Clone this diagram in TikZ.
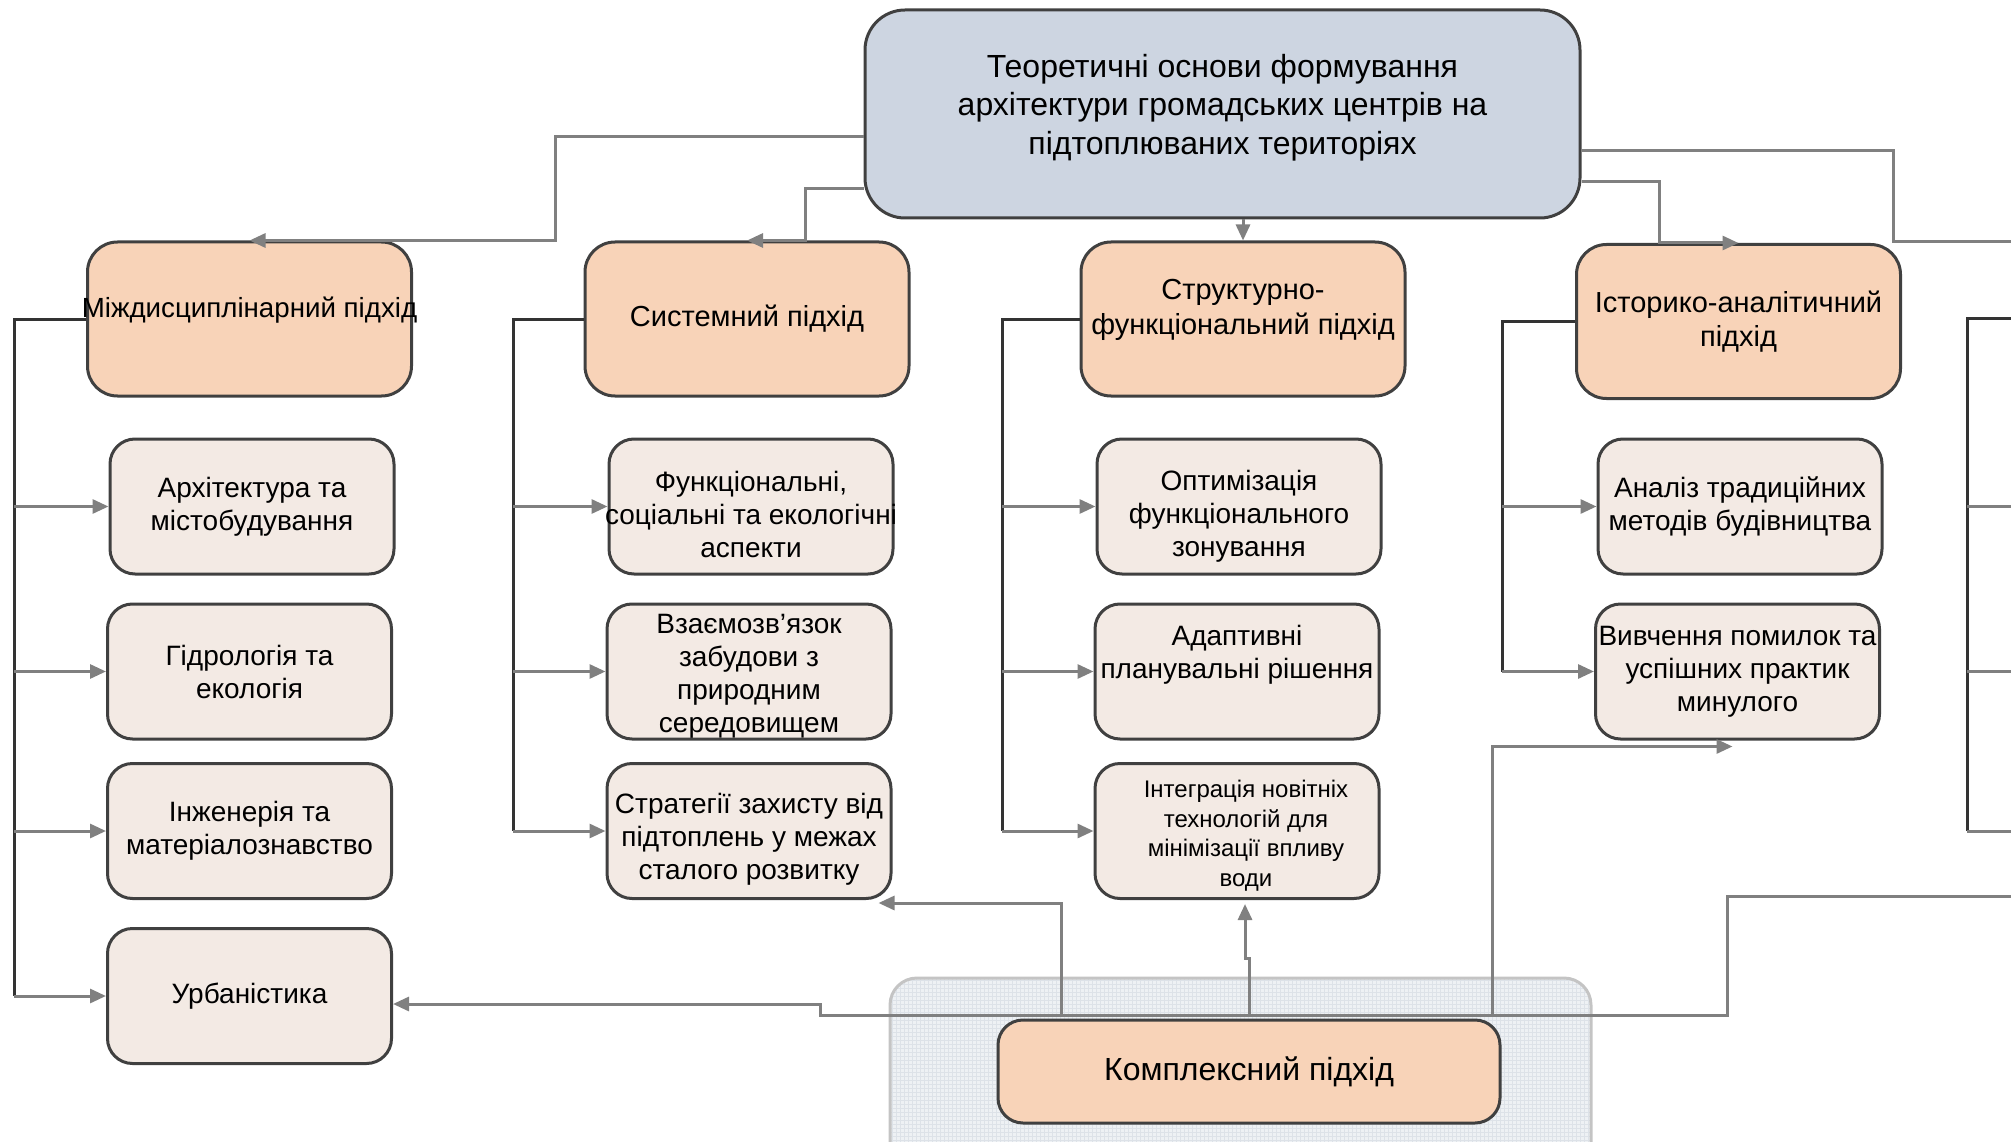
\documentclass[tikz,border=0pt]{standalone}
\usepackage{fontspec}
\setmainfont{Liberation Sans}
\usetikzlibrary{arrows.meta}

\definecolor{boxline}{HTML}{404040}
\definecolor{themefill}{HTML}{CDD5E1}
\definecolor{peach}{HTML}{F8D3B8}
\definecolor{paper}{HTML}{F3EAE4}
\definecolor{linkgray}{HTML}{808080}
\definecolor{bracketdark}{HTML}{333333}
\definecolor{bgfill}{HTML}{EEF1F4}
\definecolor{bggrid}{HTML}{DDE2E8}
\definecolor{bgline}{HTML}{C4C4C4}

% struts that move a text block down (first line) or up (last line)
\newcommand{\txtdown}[1]{\rule{0pt}{#1}}
\newcommand{\txtup}[1]{\rule[-#1]{0pt}{#1}}
% a line that may run over the box edge
\newcommand{\overrun}[1]{\makebox[0pt]{#1}}
% a line pushed a little to the right
\newcommand{\pushr}{\hspace*{18pt}}

\tikzset{
  themebox/.style={draw=boxline, line width=3pt, fill=themefill, rounded corners=40pt, inner sep=0pt,
    minimum width=715pt, minimum height=208pt, align=center, font=\fontsize{32}{38.5}\selectfont},
  approach/.style={draw=boxline, line width=3pt, fill=peach, rounded corners=30pt, inner sep=0pt,
    minimum width=324pt, minimum height=154pt, align=center, font=\fontsize{29}{34.5}\selectfont},
  aspect/.style={draw=boxline, line width=3pt, fill=paper, rounded corners=25pt, inner sep=0pt,
    minimum width=284pt, minimum height=135pt, align=center, font=\fontsize{28}{33}\selectfont},
  conn/.style={draw=linkgray, line width=3pt, -{Triangle[length=16pt,width=14pt]}},
  link/.style={draw=linkgray, line width=3pt},
  bracket/.style={draw=bracketdark, line width=3pt},
}

\begin{document}
\begin{tikzpicture}[x=1pt,y=1pt,yscale=-1]
\useasboundingbox (0,0) rectangle (2011,1142);

%Background of the complex approach
\begin{scope}
\clip[rounded corners=27pt] (890,978) rectangle (1591,1170);
\fill[bgfill] (890,978) rectangle (1591,1170);
\draw[bggrid, line width=0.6pt] (890,978) grid[step=4] (1591,1170);
\end{scope}
\draw[bgline, line width=3pt, rounded corners=27pt] (890,1170) -- (890,978) -- (1591,978) -- (1591,1170);

%Main theme
\node[themebox] (theory) at (1222.5,114) {Теоретичні основи формування\\архітектури громадських центрів на\\підтоплюваних територіях\txtup{20pt}};

%Approaches
\node[approach, font=\fontsize{27.7}{32}\selectfont] (inter) at (249.5,319) {\overrun{Міждисциплінарний підхід}\txtup{24pt}};
\node[approach] (syst) at (747,319) {Системний підхід};
\node[approach] (struct) at (1243,319) {Структурно-\\функціональний підхід\txtup{24pt}};
\node[approach] (hist) at (1738.5,321.5) {Історико-аналітичний\\підхід};

%Aspects
\node[aspect] (inter1) at (252,506.5) {Архітектура та\\містобудування};
\node[aspect] (inter2) at (249.5,671.5) {Гідрологія та\\екологія};
\node[aspect] (inter3) at (249.5,831) {Інженерія та\\матеріалознавство};
\node[aspect] (inter4) at (249.5,996) {Урбаністика};
\node[aspect] (syst1) at (751,506.5) {\txtdown{37pt}Функціональні,\\\overrun{соціальні та екологічні}\\аспекти};
\node[aspect] (syst2) at (749,671.5) {\txtdown{29pt}Взаємозв’язок\\забудови з\\природним\\середовищем};
\node[aspect] (syst3) at (749,831) {\txtdown{37pt}Стратегії захисту від\\підтоплень у межах\\сталого розвитку};
\node[aspect] (struct1) at (1239,506.5) {\txtdown{40pt}Оптимізація\\функціонального\\зонування};
\node[aspect] (struct2) at (1237,671.5) {Адаптивні\\планувальні рішення\txtup{40pt}};
\node[aspect, font=\fontsize{24}{29.5}\selectfont] (struct3) at (1237,831) {\pushr\txtdown{27pt}Інтеграція новітніх\\\pushr технологій для\\\pushr мінімізації впливу\\\pushr води};
\node[aspect] (hist1) at (1740,506.5) {Аналіз традиційних\\методів будівництва};
\node[aspect] (hist2) at (1737.5,671.5) {\overrun{Вивчення помилок та}\\успішних практик\\минулого};

%Complex approach
\node[approach, minimum width=502pt, minimum height=103pt, rounded corners=25pt, font=\fontsize{32}{37}\selectfont] (kompl) at (1249,1071.5) {Комплексний підхід};

%Turning points and free ends
\coordinate (edgeA) at (2011,242);
\coordinate (edgeB) at (2011,318);
\coordinate (edgeC) at (2011,896);
\coordinate (ti) at (555,0);
\coordinate (ts) at (805,0);
\coordinate (th) at (1659,0);
\coordinate (tx) at (1893,0);
\coordinate (ku) at (820,0);
\coordinate (kr) at (1727,0);
\coordinate (ktop) at ([yshift=-3pt]kompl.north);
\coordinate (bi) at (14,0);
\coordinate (bs) at (513,0);
\coordinate (bst) at (1002,0);
\coordinate (bh) at (1502,0);
\coordinate (bx) at (1967,0);

%Theme to approaches
\draw[conn] ([yshift=23pt]theory.west) -| (ti |- inter.north) -- (inter.north);
\draw[conn] ([yshift=75pt]theory.west) -| (ts |- syst.north) -- (syst.north);
\draw[conn] (theory.south -| struct.north) -- (struct.north);
\draw[conn] ([yshift=68pt]theory.east) -| (th |- hist.north) -- (hist.north);
\draw[link] ([yshift=37pt]theory.east) -| (tx |- edgeA) -- (edgeA);

%Brackets
\draw[bracket] (inter.west) -| (inter4.west -| bi);
\draw[conn] (inter1.west -| bi) -- (inter1.west);
\draw[conn] (inter2.west -| bi) -- (inter2.west);
\draw[conn] (inter3.west -| bi) -- (inter3.west);
\draw[conn] (inter4.west -| bi) -- (inter4.west);

\draw[bracket] (syst.west) -| (syst3.west -| bs);
\draw[conn] (syst1.west -| bs) -- (syst1.west);
\draw[conn] (syst2.west -| bs) -- (syst2.west);
\draw[conn] (syst3.west -| bs) -- (syst3.west);

\draw[bracket] (struct.west) -| (struct3.west -| bst);
\draw[conn] (struct1.west -| bst) -- (struct1.west);
\draw[conn] (struct2.west -| bst) -- (struct2.west);
\draw[conn] (struct3.west -| bst) -- (struct3.west);

\draw[bracket] (hist.west) -| (hist2.west -| bh);
\draw[conn] (hist1.west -| bh) -- (hist1.west);
\draw[conn] (hist2.west -| bh) -- (hist2.west);

\draw[bracket] (edgeB) -| (syst3.west -| bx);
\draw[link] (inter1.west -| bx) -- (inter1.west -| edgeB);
\draw[link] (inter2.west -| bx) -- (inter2.west -| edgeB);
\draw[link] (syst3.west -| bx) -- (syst3.west -| edgeB);

%Complex approach to aspects
\draw[conn] (ktop) -- (ktop -| ku) |- ([yshift=8pt]inter4.east);
\draw[conn] ([xshift=65pt,yshift=-3pt]kompl.north west) |- ([xshift=-14pt,yshift=3pt]syst3.south east);
\draw[conn] (ktop) -- ++(0,-57) -| ([xshift=8pt,yshift=4pt]struct3.south);
\draw[conn] ([xshift=-9pt,yshift=-3pt]kompl.north east) |- ([xshift=-5pt,yshift=6pt]hist2.south);
\draw[link] (ktop) -| (kr |- edgeC) -- (edgeC);

\end{tikzpicture}
\end{document}
